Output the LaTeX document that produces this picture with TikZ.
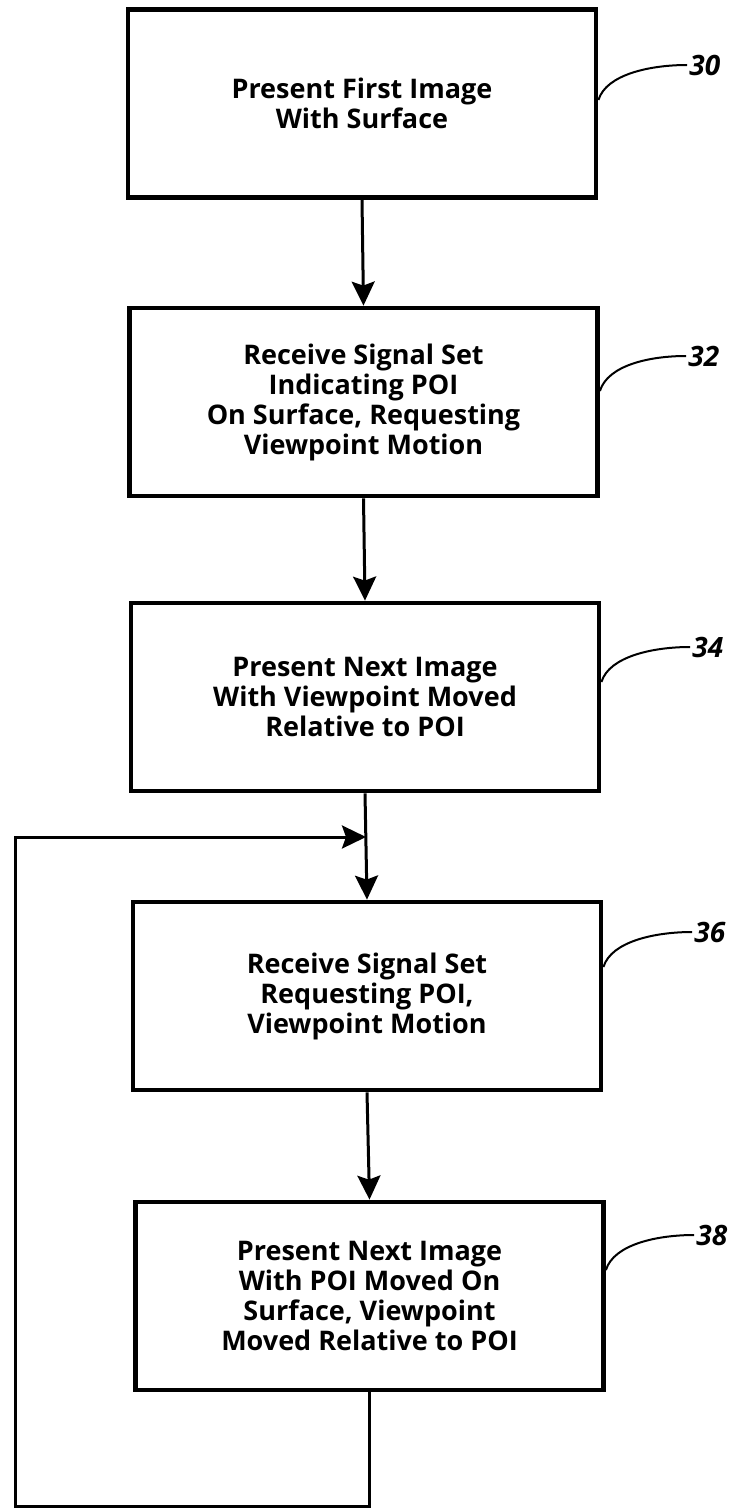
\documentclass[tikz,border=0pt]{standalone}
\usepackage{fontspec}
\setmainfont{Open Sans}
\usetikzlibrary{arrows.meta,calc}
\tikzset{procbox/.style={draw,line width=2.4pt,minimum width=234pt,minimum height=94pt,inner sep=0pt,align=center,font=\bfseries\fontsize{13.5}{15}\selectfont}}
\tikzset{flow/.style={line width=1.5pt,-{Stealth[length=12pt,width=11.5pt,inset=2pt]}}}
\tikzset{refnum/.style={anchor=west,inner sep=1pt,font=\bfseries\itshape\fontsize{14}{16}\selectfont}}
\newcommand{\flowbox}[4][]{\node[procbox,#1] at (#2) (#3) {#4}}
\newcommand{\refmark}[3]{\node[refnum] at (#1) (l#2) {#2};
  \draw[line width=1pt] ($(l#2.west -| #3.east)+(0,35)$) .. controls +(8,-26) and +(-36,0) .. (l#2.west)}

\begin{document}
\begin{tikzpicture}[x=0.5pt,y=-0.5pt]
        \useasboundingbox (0,0) rectangle (733,1509);
        \flowbox{362,103.5}{s30}{Present First Image\\With Surface};
        \flowbox{363.5,402}{s32}{Receive Signal Set\\Indicating POI\\On Surface, Requesting\\Viewpoint Motion};
        \flowbox{365,697}{s34}{Present Next Image\\With Viewpoint Moved\\Relative to POI};
        \flowbox{367,996}{s36}{Receive Signal Set\\Requesting POI,\\Viewpoint Motion};
        \flowbox{369.5,1296}{s38}{Present Next Image\\With POI Moved On\\Surface, Viewpoint\\Moved Relative to POI};
        \refmark{687,65}{30}{s30};
        \refmark{686,356}{32}{s32};
        \refmark{690,647}{34}{s34};
        \refmark{692,932}{36}{s36};
        \refmark{694,1235}{38}{s38};
        \coordinate (join) at (366,837);
        \coordinate (loopbot) at (15,1506);
        \draw[flow] (s30.south) -- (s32.north);
        \draw[flow] (s32.south) -- (s34.north);
        \draw[flow] (s34.south) -- (s36.north);
        \draw[flow] (s36.south) -- (s38.north);
        \draw[flow] (s38.south) |- (loopbot) |- (join);
    \end{tikzpicture}
\end{document}
